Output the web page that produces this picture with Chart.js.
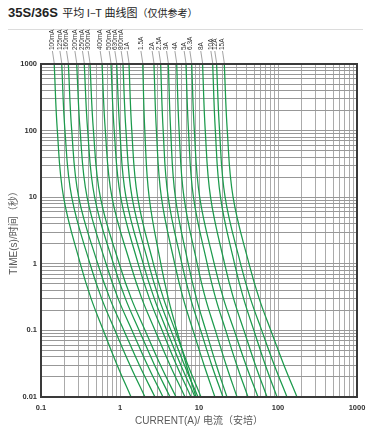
<!DOCTYPE html>
<html>
<head>
<meta charset="utf-8">
<script src="https://cdn.jsdelivr.net/npm/chart.js@4.4.1/dist/chart.umd.min.js"></script>
<style>
  html,body{margin:0;padding:0;background:#fff;}
  #wrap{position:relative;width:382px;height:428px;overflow:hidden;}
  #title{position:absolute;left:8px;top:2px;white-space:nowrap;color:#222;
         font-family:"Liberation Sans",Arial,"Noto Sans CJK SC",sans-serif;line-height:20px;}
  #title b{font-size:13px;font-weight:bold;}
  #title .cn{font-size:11px;font-family:"Noto Sans CJK SC",sans-serif;}
  #title .sm{font-size:10px;font-family:"Noto Sans CJK SC",sans-serif;}
  #rule{position:absolute;left:8px;top:29px;width:355px;height:1px;background:#dcdcdc;}
  canvas{position:absolute;left:0;top:0;}
</style>
</head>
<body>
<div id="wrap">
  <div id="title"><b>35S/36S</b> <span class="cn">平均 I–T 曲线图</span><span class="sm">（仅供参考）</span></div>
  <div id="rule"></div>
  <canvas id="c" width="382" height="428"></canvas>
</div>
<script>
// ---- data (current in A at the listed times in s) ----
const TIMES = [1000, 100, 10, 1, 0.3, 0.1, 0.03, 0.01];
const RATINGS = ['100mA','125mA','160mA','200mA','250mA','300mA','400mA','500mA','630mA','800mA','1A',
                 '1.5A','2A','2.5A','3A','4A','5A','6.3A','8A','10A','12A','15A'];
const c100mA = [0.147, 0.161, 0.193, 0.315, 0.431, 0.616, 0.922, 1.38];
const c125mA = [0.183, 0.201, 0.245, 0.417, 0.586, 0.865, 1.34, 2.07];
const c160mA = [0.222, 0.245, 0.300, 0.523, 0.745, 1.12, 1.76, 2.77];
const c200mA = [0.283, 0.313, 0.383, 0.666, 0.947, 1.42, 2.23, 3.50];
const c250mA = [0.353, 0.390, 0.477, 0.826, 1.17, 1.75, 2.74, 4.30];
const c300mA = [0.417, 0.461, 0.564, 0.978, 1.39, 2.08, 3.26, 5.12];
const c400mA = [0.592, 0.652, 0.791, 1.35, 1.89, 2.78, 4.30, 6.65];
const c500mA = [0.769, 0.845, 1.02, 1.70, 2.36, 3.42, 5.20, 7.92];
const c630mA = [0.908, 0.995, 1.19, 1.97, 2.72, 3.91, 5.90, 8.90];
const c800mA = [1.09, 1.19, 1.42, 2.30, 3.12, 4.42, 6.55, 9.71];
const c1A    = [1.30, 1.41, 1.67, 2.65, 3.56, 4.98, 7.26, 10.6];
const c1_5A  = [1.94, 2.06, 2.34, 3.29, 4.09, 5.24, 6.93, 9.16];
const c2A    = [2.69, 2.89, 3.34, 4.93, 6.32, 8.41, 11.6, 15.9];
const c2_5A  = [3.27, 3.52, 4.07, 6.07, 7.83, 10.5, 14.5, 20.1];
const c3A    = [4.09, 4.38, 5.02, 7.31, 9.29, 12.2, 16.6, 22.6];
const c4A    = [5.22, 5.60, 6.45, 9.49, 12.1, 16.1, 22.1, 30.3];
const c5A    = [6.84, 7.36, 8.51, 12.7, 16.3, 21.8, 30.1, 41.7];
const c6_3A  = [8.08, 8.73, 10.2, 15.6, 20.4, 27.9, 39.4, 55.8];
const c8A    = [11.1, 12.0, 14.0, 21.1, 27.4, 37.0, 51.8, 72.6];
const c10A   = [14.9, 16.1, 18.7, 28.2, 36.7, 49.5, 69.3, 97.1];
const c12A   = [16.7, 18.2, 21.4, 33.6, 44.8, 62.2, 89.9, 130];
const c15A   = [20.9, 22.8, 27.0, 43.0, 57.8, 81.1, 119, 174];
const CURVES = [c100mA,c125mA,c160mA,c200mA,c250mA,c300mA,c400mA,c500mA,c630mA,c800mA,c1A,
                c1_5A,c2A,c2_5A,c3A,c4A,c5A,c6_3A,c8A,c10A,c12A,c15A];
const X_LABELS = ['0.1','1','10','100','1000'];
const Y_LABELS = ['0.01','0.1','1','10','100','1000'];

// ---- helpers ----
function gridValues(min, max){
  const out = [];
  for (let d = Math.round(Math.log10(min)); d < Math.round(Math.log10(max)); d++){
    for (let m = 1; m <= 9; m++) out.push(m * Math.pow(10, d));
  }
  out.push(max);
  return out;
}
function labelFor(list, v){
  for (const s of list){ if (Math.abs(Math.log10(v) - Math.log10(parseFloat(s))) < 1e-6) return s; }
  return '';
}

const GREEN = '#1c9a4c';
const datasets = CURVES.map((arr, k) => ({
  label: RATINGS[k],
  data: arr.map((cur, i) => ({x: cur, y: TIMES[i]})),
  borderColor: GREEN,
  borderWidth: 1.25,
  pointRadius: 0,
  tension: 0.4,
  fill: false
}));

const framePlugin = {
  id: 'frame',
  afterDatasetsDraw(chart){
    const {ctx, chartArea: a} = chart;
    ctx.save();
    ctx.strokeStyle = '#3a3a3a';
    ctx.lineWidth = 2;
    ctx.strokeRect(a.left, a.top, a.right - a.left, a.bottom - a.top);
    ctx.restore();
  },
  afterDraw(chart){
    const {ctx, chartArea: a} = chart;
    ctx.save();
    ctx.font = '6.5px "Liberation Sans", Arial, sans-serif';
    ctx.fillStyle = '#333';
    chart.data.datasets.forEach((ds, k) => {
      const p = chart.getDatasetMeta(k).data[0];
      const lx = p.x - 1.8;
      ctx.strokeStyle = '#8c8c8c';
      ctx.lineWidth = 0.8;
      ctx.beginPath();
      ctx.moveTo(lx, a.top - 13);
      ctx.lineTo(p.x, a.top - 1);
      ctx.stroke();
      ctx.save();
      ctx.translate(lx, a.top - 14);
      ctx.rotate(-Math.PI / 2);
      ctx.textAlign = 'left';
      ctx.textBaseline = 'middle';
      ctx.fillText(ds.label, 0, 0);
      ctx.restore();
    });
    ctx.restore();
  }
};

new Chart(document.getElementById('c'), {
  type: 'line',
  data: { datasets },
  options: {
    responsive: false,
    animation: false,
    layout: { padding: { left: 0, right: 25, top: 64, bottom: 0 } },
    plugins: { legend: { display: false }, tooltip: { enabled: false } },
    scales: {
      x: {
        type: 'logarithmic', min: 0.1, max: 1000,
        afterBuildTicks(s){ s.ticks = gridValues(0.1, 1000).map(v => ({value: v})); },
        afterFit(s){ s.height = 31; },
        grid: { color: '#ababab', lineWidth: 1, drawTicks: false },
        border: { display: false },
        ticks: {
          autoSkip: false, maxRotation: 0, padding: 6, color: '#333',
          font: { family: '"Liberation Sans", Arial, sans-serif', size: 7.5, weight: 'bold' },
          callback: (v) => labelFor(X_LABELS, v)
        },
        title: {
          display: true, text: 'CURRENT(A)/ 电流（安培）', color: '#5a5a5a',
          font: { family: '"Liberation Sans", "Noto Sans CJK SC", sans-serif', size: 10 },
          padding: { top: 0, bottom: 1 }
        }
      },
      y: {
        type: 'logarithmic', min: 0.01, max: 1000,
        afterBuildTicks(s){ s.ticks = gridValues(0.01, 1000).map(v => ({value: v})); },
        afterFit(s){ s.width = 41; },
        grid: { color: '#989898', lineWidth: 1, drawTicks: false },
        border: { display: false },
        ticks: {
          autoSkip: false, padding: 4, color: '#333',
          font: { family: '"Liberation Sans", Arial, sans-serif', size: 7.5, weight: 'bold' },
          callback: (v) => labelFor(Y_LABELS, v)
        },
        title: {
          display: true, text: 'TIME(s)/时间（秒）', color: '#5a5a5a',
          font: { family: '"Liberation Sans", "Noto Sans CJK SC", sans-serif', size: 10 },
          padding: { top: 8, bottom: 0 }
        }
      }
    }
  },
  plugins: [framePlugin]
});
</script>
</body>
</html>
